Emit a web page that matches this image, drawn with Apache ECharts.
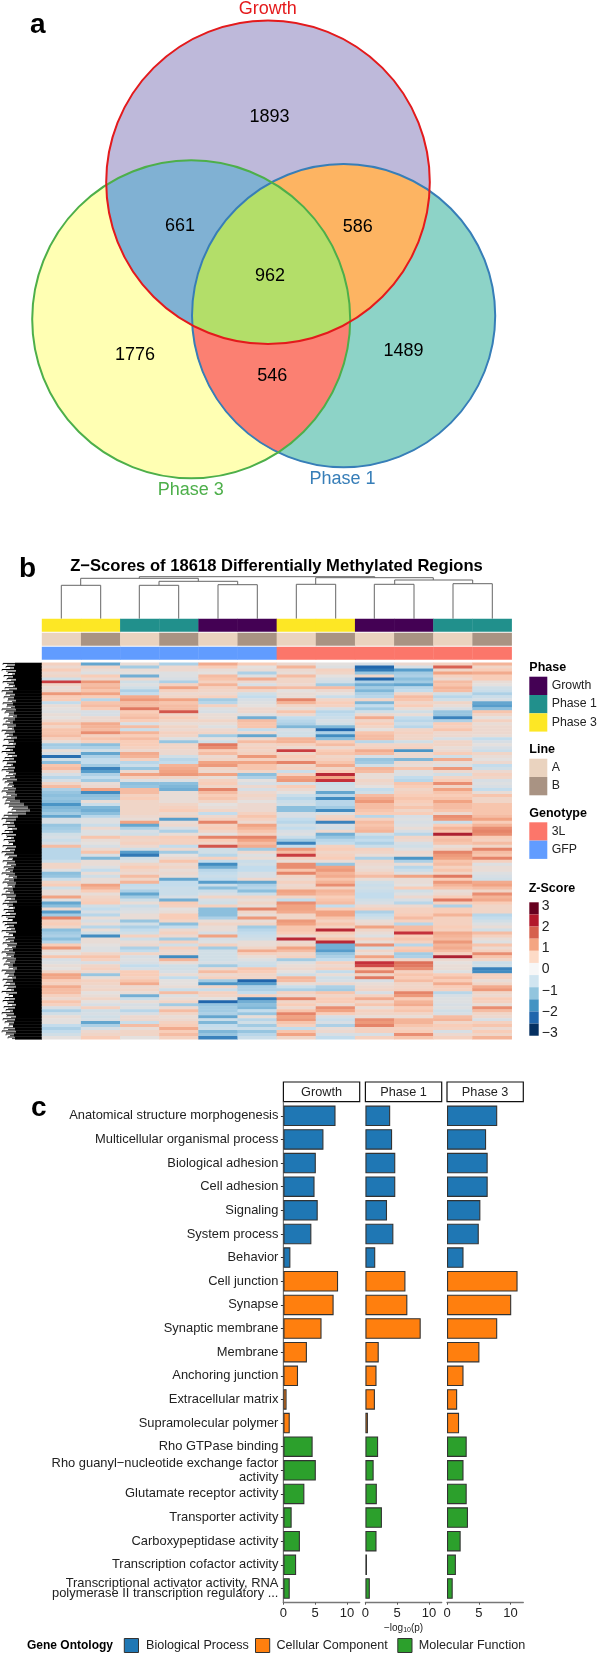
<!DOCTYPE html>
<html><head><meta charset="utf-8">
<style>html,body{margin:0;padding:0;background:#fff}#c{width:598px;height:1653px}</style>
<script src="https://cdn.jsdelivr.net/npm/echarts@6/dist/echarts.min.js"></script></head>
<body><div id="c"></div>
<script>
// ---------- panel a: Venn counts ----------
const vennSetNames = ['Growth', 'Phase 3', 'Phase 1'];
const vennCounts = [1893, 661, 586, 962, 1776, 546, 1489];

// ---------- panel b: heatmap ----------
const columnPhase = ['Phase 3','Phase 3','Phase 1','Phase 1','Growth','Growth','Phase 3','Phase 3','Growth','Growth','Phase 1','Phase 1'];
const columnLine = ['A','B','A','B','A','B','A','B','A','B','A','B'];
const columnGenotype = ['GFP','GFP','GFP','GFP','GFP','GFP','3L','3L','3L','3L','3L','3L'];
const zCol1 = [.4,.2,.5,.2,.3,-.3,1.9,.3,.1,.2,1.1,.5,.5,-.5,.1,0,-.1,.1,0,.2,.6,.3,.6,.6,.7,.4,.1,-.8,-.7,.1,-.2,-1.9,-.3,-1,.6,.7,.2,-.2,-.6,-.2,.3,.7,
 -.7,-.9,-1,-.9,-1,-1.5,-1.1,-1,-.8,-1.3,-.2,-.2,-.9,-.8,-.7,-.3,-.2,-.4,-.2,.7,-.6,-.6,-.6,-.6,-.4,.3,.3,-.1,-1,-.9,-.4,.3,.5,-.3,.1,.1,1,-.1,-1.3,-1,.2,-1.4,
 -.8,1.3,.4,.5,.3,-1,-.8,-.7,-1,-.6,.5,1.1,.1,0,.6,-.2,-.1,.1,0,.3,1,.9,.5,.4,.9,.7,.7,.4,.2,.6,.4,-.2,-.7,-.3,.1,0,0,-.5,-.7,-.5,-.3,0];
const zCol2 = [-1.3,.3,.1,-.1,.5,.2,1.1,.7,.8,.6,1,.5,-.6,.6,.7,.5,-.2,-.2,.2,.2,.9,.8,.7,1.2,.4,.6,.4,-1,-.7,-.3,-1.3,-.7,-.5,-.5,-.8,-1.7,-1.4,-.7,-.5,-.8,.1,.2,
 1,-1.6,-1,-.9,.1,-.4,-1.1,-1.2,-1,-.6,-.1,-.1,-.4,.2,-.1,-.1,.6,.1,0,-.2,.2,.6,-.2,-1.1,.1,.1,-.1,-.5,.1,-.3,.1,.1,1,.8,.5,.1,.3,.4,.5,-.3,-.5,-.2,
 -.6,.1,-.2,.1,-.6,.1,-.3,-1.6,.1,.1,0,-.1,-.1,.3,.6,.4,-.2,.3,.4,.2,-.9,.1,.4,.3,.2,.3,0,.1,.3,0,-.2,.4,-.3,-.2,-.3,-.2,-1.3,-.7,-.2,.2,.3,.5];
const zCol3 = [.1,-.8,.1,0,-1.2,.2,-.3,-.1,-.3,-.7,-.5,.9,1.1,.7,.7,1.4,.5,.6,.7,.5,-.2,.7,-.4,.8,.5,.7,.5,.5,.4,.2,.9,.8,.4,-.6,-.4,-.9,.2,1,.4,-.1,-1,-.9,
 .7,.7,.4,.5,.3,.3,.3,.3,.3,.2,.1,1,-1.3,-.7,-.2,-.3,.4,.3,.4,.2,-.3,-1.4,-1.8,-.3,-.1,.3,.5,.3,.2,.7,.3,.8,-.5,-.4,-.7,-1.3,-.8,-.3,.1,-.4,-.2,-.1,
 .1,.1,-.9,-.3,-.7,-.5,-.3,.4,-.3,.1,.2,-.7,-.5,.3,-.2,-.1,-.2,-.5,-.2,.5,.5,.4,.6,.9,.2,.3,.1,-1.2,-.4,.1,-.2,-.1,-.6,-.2,.2,.2,-.4,.7,.1,.3,.3,0];
const zCol4 = [-.7,.2,.2,-.1,-.1,-.2,-.7,.4,1,.4,.2,.3,1,.6,.7,.7,1.7,.3,.5,.3,.1,.3,.2,.4,.3,-.1,-.9,.3,.3,.2,.2,-.3,-.6,-.5,.8,.9,1,1.1,.3,-.1,-1,-1.1,
 -1.2,.1,.1,.1,.1,.3,.4,.5,.2,.3,-1.4,.1,.2,-.2,-.7,.1,.5,.4,.4,-.5,.2,-.8,0,.2,.6,.2,.3,.1,.2,.1,-1.3,-.5,-.5,-.4,-.4,-.4,-.2,-1.2,.5,.4,0,.1,
 .5,.5,.3,-1,-.5,.2,.4,.2,-.8,.4,-.3,.4,.2,.2,-1.6,.8,.1,-.3,-.3,-.2,.1,-.5,0,0,.1,-.4,.7,-.1,.1,.3,-.8,.2,.7,.3,.1,.2,.4,.5,.9,.5,.7,.4];
const zCol5 = [.9,.5,.1,0,.7,.6,.4,.8,.4,.3,.2,.4,-.8,-.6,.4,-.1,-.2,.1,.1,.3,.1,-.1,.2,.3,-.8,0,-.3,1.4,1.2,.5,.7,.2,.3,1,1.1,.3,.2,1,.1,.4,.5,.3,
 1.3,.7,.5,.6,.3,0,.1,.3,-.5,.2,.4,1.3,.4,.5,.3,0,1.3,.5,.3,1.7,-.3,-.3,-.6,.4,-.5,-1.6,-1.2,-.6,-.5,-.4,-.5,-1.4,-.4,-1,-.4,-.2,.3,-.2,-.3,.4,-1,-1,
 -1,-.7,.1,.3,.1,.1,-.2,1,-.2,-.1,.4,-.8,-.3,-.3,-.3,-.3,-.2,-.8,.2,.7,.2,.4,-.8,-1.5,.3,-.4,.4,.3,0,-2,-.9,-.8,-.8,-.7,-1.3,-.4,-1.1,-.5,-.4,-1.1,-.9,-1.7];
const zCol6 = [.5,0,.1,-.7,-.1,.9,.2,-.2,.8,.3,-.3,-.5,-.2,-.1,0,.2,.2,-.1,-1.2,.7,.6,.6,-.5,.2,-1.3,.2,.7,.3,.4,.3,.4,1.1,.4,1,.6,.6,.3,-1,-.7,0,-.2,.2,
 -.2,.2,.3,.2,0,.2,.2,.2,.4,.6,.4,.2,1,.8,.6,.4,1.3,1,.7,.9,-.8,.2,-.1,.1,-.4,-.3,-.5,-.5,-.2,-.2,.2,-1.3,-.7,-.6,-1,-.4,.3,.1,.3,.1,1.3,.3,
 .1,1.1,.1,.3,-.8,-.6,-.5,-.4,-.3,.1,.1,.3,.9,.4,.1,-.1,-.3,-.4,.6,.5,.3,.3,-2,-1.4,-.7,-.7,-.5,.4,-1.8,-1.2,-1,-1.1,-.5,-.9,.1,-.6,-.3,-.8,-.4,-.9,-.6,-.4];
const zCol7 = [.2,.8,.2,.1,.7,.3,.3,.2,.7,0,.1,.1,1.3,.8,.3,.1,.6,.2,-.5,-.6,-.7,-1.1,-.2,-.3,-.3,.8,.8,.4,.2,1.9,.3,.5,.4,1.3,.3,.4,-.4,.4,1,1.1,-.2,.5,
 .2,0,-.4,-.6,-.4,-.3,-1,-1,-.2,-.2,-.5,-.6,-.3,-.5,-.2,-.1,-.4,-.8,-1.7,-.5,1.1,.7,1.9,.4,.1,1.2,1.2,.6,1.3,.3,.2,.4,.2,.3,1,.9,.3,-.5,1.2,1,1,.9,
 .3,.3,1.1,1,.6,.6,.5,.2,2.1,.2,.3,1,.7,.3,.4,-.8,-.1,.1,.2,0,-.3,.8,.7,.1,-.4,-.7,.4,.2,1.3,.3,.5,.2,.6,1.3,1,1.1,.6,.4,-.5,.6,1,.3];
const zCol8 = [0,-.1,.4,.3,0,-.2,-.3,-.8,.7,.2,0,-.4,.3,.5,.4,-.2,-.6,-.5,-.4,-.2,-.3,-1.1,-2,-.7,-1.6,-1,.5,.7,.2,.5,.6,.3,.4,.6,.9,.3,.5,2.1,1,2,-.4,-.3,
 -.3,-1.3,-.6,-1.6,-.6,-.6,-.8,-1.6,-.1,.3,.4,-1.7,-.2,-.3,.2,-1.2,-.9,-.6,-.5,.4,.5,.3,.4,.5,.1,-.9,1,1.1,.8,.9,.6,.8,1.2,.4,.8,.7,.5,.6,.7,-.5,.5,1,
 1,.6,.4,.6,.4,2.1,.5,.3,.6,2.1,-1.2,-1.2,-1.4,-.9,-.7,-.5,.4,.2,.4,-.5,.1,-.3,-.2,.2,-.7,-.8,.6,.3,.5,.5,.2,1.2,1,.5,-.2,-.4,-.2,-.7,.1,.2,-.2,-.5];
const zCol9 = [-.2,-2,-1.8,-.9,.3,-2,-.7,-1.2,-.8,-1.1,-.7,-.6,.3,-1.1,-.5,-.8,-.3,.2,.9,.3,.5,.3,0,.6,.7,.7,-.6,.3,.4,.9,.7,-.2,-.9,-.8,-.3,.8,.7,.1,.1,.3,.2,0,
 -.5,-.3,.7,.9,1.1,.7,.7,.6,.5,-.6,.4,.7,.6,.7,.8,-.3,-.6,-.5,-.7,-.4,.4,.3,.1,-.7,.3,.2,.1,.2,.4,.7,.1,-.3,-.4,-.3,-.4,-.5,-.5,-.3,-.2,.2,.4,-.7,
 -.5,-.3,.1,.2,1,.3,.1,-.1,.4,.1,1.2,-.3,.3,.1,1,.3,2,1.8,.6,1.3,.3,1.4,-.2,.1,.2,.3,-.2,.4,.9,.3,.6,.1,.4,.3,.1,1.2,1.1,1.3,.4,.4,-.2,.4];
const zCol10 = [.2,-.2,-1.4,-.8,-.7,-1,-.8,-1.3,-.6,-.5,.3,.7,.6,.3,.5,.1,-.3,.1,-.5,-.6,-.4,-.6,.3,.4,.3,.3,-.3,.3,.4,-1.5,.2,.2,-1.1,.2,.1,.6,-.1,-.1,-.5,-.6,.6,.5,
 .3,.4,.5,.6,.5,.4,.6,.3,.5,-.2,-.1,-.2,-.1,.1,-.2,-.6,.3,.2,-.2,-.3,-.1,.2,.1,-1.5,-.7,.1,-.6,-.4,-.1,1,.1,.1,0,.5,-.3,-.1,.2,-.2,-.6,.2,.4,.4,
 .5,.7,.4,-.6,.7,.7,2,.5,.6,.4,-.6,.5,.6,-.8,-.7,.3,1.5,1.4,1.2,.4,.6,.5,.7,.3,.3,.4,1.3,1.1,.5,.8,.9,.5,.6,.3,.1,.8,.8,.6,.4,.5,1.2,.6];
const zCol11 = [.4,1.6,.3,1,.4,.2,.7,.6,.8,.7,-.3,-.6,-.3,.3,.1,-.2,-.9,-.9,-1.7,-.7,.5,.4,.6,.2,.2,-.2,.3,.3,.1,.2,.5,-.3,.9,.1,-.1,1.1,.2,-.3,.3,.5,1.2,.3,
 1,.6,.5,.6,1,.7,.7,.6,.2,1.2,1.1,-.4,.5,.8,.6,2.2,.6,.7,.6,.1,.3,1.3,1.1,1,.6,.7,.4,.6,.3,1.4,.5,1.1,.8,.6,.1,.2,.5,1.4,.4,-.7,.5,.5,
 .8,.4,.4,.4,.5,.4,.9,.8,.7,1.1,.8,.9,.7,.4,2.2,.2,0,.1,.1,-.1,.5,.7,.5,.9,.5,.4,-.6,-.2,-.1,-.1,-.2,-.1,-.3,-.2,.7,.8,.3,.5,.4,-.2,.2,.4];
const zCol12 = [.8,.3,.5,.9,.5,.5,.1,0,-.3,-.4,-.7,-.4,-.2,-1.3,-1.4,-1,.6,.3,0,.4,.1,.2,.2,.2,.1,-.5,-.2,0,-.2,-.4,.3,.1,0,.2,-.5,-.3,.2,.4,.3,-.2,-.1,-.2,
 -.5,.1,.6,.3,.3,.6,.6,.6,.6,.7,1,.5,.8,1.2,1.3,1.2,.5,.4,.7,.3,1.3,.7,.6,1.3,.4,-.1,.1,.1,-.1,-.2,-.3,.9,1,.7,.3,1.2,.8,.9,.5,.3,.3,.3,
 -.6,-.5,-.3,-.1,.1,-.3,.7,.4,.1,-.1,.6,.2,.4,1.2,.6,.3,-.4,-.3,-1.7,-1.6,.4,.4,.1,.3,.9,1.1,.3,.2,.5,.4,.1,1.2,.7,.3,.2,-.2,.4,.6,.2,.5,.3,.8];
const rowTreeEdge = [15,14,16,15,13,16,14,15,17,13,15,14,16,13,15,16,14,17,15,13,16,14,15,13,17,14,16,15,13,15,17,14,16,13,15,14,16,15,17,13,14,16,
 15,17,15,20,24,28,30,26,18,16,14,15,17,13,16,14,15,13,16,15,14,17,13,15,16,14,13,15,17,14,16,15,13,14,16,15,17,13,15,14,
 16,15,13,17,14,15,16,13,15,14,17,16,13,15,14,16,15,13,17,15,14,16,13,15,16,14,17,13,15,14,16,15,13,14,16,15,14,13,15,16,14,15];
const rowTreeTip = [3,6,2,8,4,7,3,9,5,2,6,4,8,3,7,2,5,9,4,6,3,8,2,5,7,4,9,3,6,2,8,5,3,7,4,2,9,6,3,5,8,4,
 2,7,3,6,5,9,12,8,4,2,6,3,8,5,2,7,4,9,3,6,2,5,8,3,7,4,6,2,9,5,3,8,4,6,2,7,5,3,9,4,
 6,2,8,3,5,7,2,9,4,6,3,8,5,2,7,3,6,4,9,2,5,8,3,6,4,7,2,9,5,3,8,4,6,2,7,3,5,9,4,2,6,8];
const zTickLabels = ['3','2','1','0','−1','−2','−3'];
const zLegendColors = ['#67001F','#B2182B','#D6604D','#F4A582','#FDDBC7','#F7F7F7','#D1E5F0','#92C5DE','#4393C3','#2166AC','#053061'];

// ---------- panel c: GO enrichment ----------
const goTerms = ['Anatomical structure morphogenesis','Multicellular organismal process','Biological adhesion','Cell adhesion','Signaling','System process','Behavior','Cell junction','Synapse','Synaptic membrane','Membrane','Anchoring junction','Extracellular matrix','Supramolecular polymer','Rho GTPase binding','Rho guanyl−nucleotide exchange factor\nactivity','Glutamate receptor activity','Transporter activity','Carboxypeptidase activity','Transcription cofactor activity','Transcriptional activator activity, RNA\npolymerase II transcription regulatory ...'];
const goClass = ['Biological Process','Biological Process','Biological Process','Biological Process','Biological Process','Biological Process','Biological Process','Cellular Component','Cellular Component','Cellular Component','Cellular Component','Cellular Component','Cellular Component','Cellular Component','Molecular Function','Molecular Function','Molecular Function','Molecular Function','Molecular Function','Molecular Function','Molecular Function'];
const goGrowth = [8.2,6.3,5.1,4.9,5.4,4.4,1.1,8.6,7.9,6.0,3.7,2.3,0.5,1.0,4.6,5.1,3.3,1.3,2.6,2.0,1.0];
const goPhase1 = [3.9,4.2,4.7,4.7,3.4,4.4,1.55,6.3,6.6,8.7,2.1,1.75,1.5,0.4,2.0,1.3,1.8,2.6,1.75,0.25,0.7];
const goPhase3 = [7.9,6.15,6.4,6.4,5.25,5.0,2.6,11.1,10.1,7.9,5.1,2.6,1.6,1.9,3.1,2.6,3.1,3.3,2.15,1.4,0.9];
const goPanels = ['Growth','Phase 1','Phase 3'];
const goTicks = [0,5,10];

// ---------- styling and layout (not data) ----------
const FONT = '"Liberation Sans", Arial, sans-serif';
const vennStyle = {
  sets: [{cx:268,cy:182.3,r:161.8,color:'#E41A1C',fill:'#BEB9DA',lx:267.7,ly:9,},{cx:191.2,cy:319.3,r:159,color:'#4DAF4A',fill:'#FFFFB3',lx:190.7,ly:490},{cx:343.6,cy:315.7,r:151.6,color:'#377EB8',fill:'#8DD3C7',lx:342.5,ly:479}],
  overlaps: [{of:[0,1],fill:'#80B1D3'},{of:[0,2],fill:'#FDB462'},{of:[1,2],fill:'#FB8072'},{of:[0,1,2],fill:'#B3DE69'}],
  countPos: [[269.6,116.7],[180,225.7],[357.7,226.7],[270,275.7],[135,355],[272.3,375.7],[403.5,350.7]]
};
const dendroBrackets = [[61.3,100.7,585.3,618.7,618.7],[139.3,178.7,585.3,618.7,618.7],[218,257.3,584.7,618.7,618.7],[296.3,335.7,584.3,618.7,618.7],[374.3,414,584.3,618.7,618.7],[453,492.3,583.7,618.7,618.7],[159,237.7,581.3,585.3,584.7],[80.7,198.3,578.3,585.3,581.3],[394.7,472.7,580,584.3,583.7],[315.7,433.3,577.7,584.3,580],[139.3,374.7,576.7,578.3,577.7]];
const phaseColors = {'Growth':'#440154','Phase 1':'#21908C','Phase 3':'#FDE725'};
const lineColors = {A:'#EAD3BF',B:'#A99383'};
const genoColors = {'3L':'#FC766A','GFP':'#619CFF'};
const goColors = {'Biological Process':'#1F77B4','Cellular Component':'#FF7F0E','Molecular Function':'#2CA02C'};
const HEAT = {left:42,top:662.7,width:469.7,height:376.6};
const columns = [zCol1,zCol2,zCol3,zCol4,zCol5,zCol6,zCol7,zCol8,zCol9,zCol10,zCol11,zCol12];
const rowNames = zCol1.map((_,i)=>'r'+i);
const heatData = [];
columns.forEach((col,c)=>col.forEach((v,r)=>heatData.push([c,r,v])));

// region outlines: a circle polygon cut by the half-planes of other circles' polygon edges
function circlePoly(s){const p=[];for(let i=0;i<240;i++){const a=i/240*2*Math.PI;p.push([s.cx+s.r*Math.cos(a),s.cy+s.r*Math.sin(a)]);}return p;}
function clipHalf(poly,a,b,c){
  const side=p=>(b[0]-a[0])*(p[1]-a[1])-(b[1]-a[1])*(p[0]-a[0]), ref=side(c), out=[];
  for(let i=0;i<poly.length;i++){
    const P=poly[i],Q=poly[(i+1)%poly.length],sp=side(P),sq=side(Q),ip=sp*ref>=0,iq=sq*ref>=0;
    if(ip) out.push(P);
    if(ip!==iq){const t=sp/(sp-sq);out.push([P[0]+t*(Q[0]-P[0]),P[1]+t*(Q[1]-P[1])]);}
  }
  return out;
}
function clipByCircle(poly,s){
  const e=circlePoly(s);let out=poly;
  for(let i=0;i<e.length&&out.length;i++) out=clipHalf(out,e[i],e[(i+1)%e.length],[s.cx,s.cy]);
  return out;
}

const pixelAxisX={gridIndex:0,type:'value',min:0,max:598,show:false};
const pixelAxisY={gridIndex:0,type:'value',min:0,max:1653,inverse:true,show:false};

function pts(api,list){return list.map(p=>api.coord(p));}

const series=[];
// Venn fills
const vennLayers=vennStyle.sets.map(s=>({poly:circlePoly(s),fill:s.fill})).concat(vennStyle.overlaps.map(o=>{
  let poly=circlePoly(vennStyle.sets[o.of[0]]);o.of.slice(1).forEach(i=>{poly=clipByCircle(poly,vennStyle.sets[i]);});return {poly,fill:o.fill};
}));
series.push({type:'custom',name:'vennFill',coordinateSystem:'cartesian2d',xAxisIndex:0,yAxisIndex:0,silent:true,clip:false,animation:false,
  data:vennLayers.map((_,i)=>[i]),
  renderItem(p,api){const l=vennLayers[p.dataIndex];return {type:'polygon',shape:{points:pts(api,l.poly)},style:{fill:l.fill,stroke:l.fill,lineWidth:0.5}};}
});
series.push({type:'custom',name:'vennOutline',coordinateSystem:'cartesian2d',xAxisIndex:0,yAxisIndex:0,silent:true,clip:false,animation:false,z:3,
  data:[2,1,0],
  renderItem(p,api){const s=vennStyle.sets[api.value(0)];const c=api.coord([s.cx,s.cy]);
    return {type:'circle',shape:{cx:c[0],cy:c[1],r:s.r},style:{fill:'none',stroke:s.color,lineWidth:2}};}
});
series.push({type:'custom',name:'vennCounts',coordinateSystem:'cartesian2d',xAxisIndex:0,yAxisIndex:0,silent:true,clip:false,animation:false,z:4,
  data:vennCounts.map((v,i)=>[vennStyle.countPos[i][0],vennStyle.countPos[i][1],v]),
  renderItem(p,api){const c=api.coord([api.value(0),api.value(1)]);
    return {type:'text',x:c[0],y:c[1],style:{text:String(api.value(2)),fontFamily:FONT,fontSize:18,fill:'#000',textAlign:'center',textVerticalAlign:'middle'}};}
});
// column dendrogram
series.push({type:'custom',name:'columnTree',coordinateSystem:'cartesian2d',xAxisIndex:0,yAxisIndex:0,silent:true,clip:false,animation:false,
  data:dendroBrackets,
  renderItem(p,api){const v=[0,1,2,3,4].map(i=>api.value(i));
    return {type:'polyline',shape:{points:pts(api,[[v[0],v[3]],[v[0],v[2]],[v[1],v[2]],[v[1],v[4]]])},style:{fill:'none',stroke:'#666',lineWidth:1}};}
});
// row dendrogram
const rowH=HEAT.height/rowTreeEdge.length;
series.push({type:'custom',name:'rowTree',coordinateSystem:'cartesian2d',xAxisIndex:0,yAxisIndex:0,silent:true,clip:false,animation:false,
  data:rowTreeEdge.map((e,i)=>[i,e,rowTreeTip[i]]),
  renderItem(p,api){const i=api.value(0),e=api.value(1),t=api.value(2),y=HEAT.top+i*rowH;
    const a=api.coord([e,y]),b=api.coord([HEAT.left,y+rowH]);
    const mid=y+rowH/2, kids=[
      {type:'rect',shape:{x:a[0],y:a[1],width:b[0]-a[0],height:b[1]-a[1]+.3},style:{fill:'#000'}},
      {type:'polyline',shape:{points:pts(api,[[t,mid-.8],[e,mid-.8]])},style:{fill:'none',stroke:'#000',lineWidth:1}},
      {type:'polyline',shape:{points:pts(api,[[t+4,mid+.8],[e,mid+.8]])},style:{fill:'none',stroke:'#111',lineWidth:.8}},
      {type:'polyline',shape:{points:pts(api,[[t,mid-.8],[t,mid+.8]])},style:{fill:'none',stroke:'#333',lineWidth:.7}}
    ];
    return {type:'group',children:kids};}
});
// annotation tracks
const trackData=[];
[[columnPhase,phaseColors],[columnLine,lineColors],[columnGenotype,genoColors]].forEach((t,k)=>t[0].forEach((v,c)=>trackData.push({value:[c,k],color:t[1][v]})));
series.push({type:'custom',name:'tracks',coordinateSystem:'cartesian2d',xAxisIndex:2,yAxisIndex:2,silent:true,animation:false,
  data:trackData.map(d=>d.value),
  renderItem(p,api){const c=api.value(0),k=api.value(1),w=api.size([1,0])[0];
    const a=api.coord([c,k]),b=api.coord([c,k+0.93]);
    return {type:'rect',shape:{x:a[0]-w/2-.2,y:a[1],width:w+.4,height:b[1]-a[1]},style:{fill:trackData[p.dataIndex].color}};}
});
// heatmap
series.push({type:'heatmap',name:'z',xAxisIndex:1,yAxisIndex:1,data:heatData,silent:true,animation:false,progressive:0,itemStyle:{borderWidth:0}});
// bars
[goGrowth,goPhase1,goPhase3].forEach((vals,i)=>{
  series.push({type:'bar',name:goPanels[i],xAxisIndex:3+i,yAxisIndex:3+i,silent:true,animation:false,barWidth:20.5,
    data:vals.map((v,j)=>({value:v,itemStyle:{color:goColors[goClass[j]],borderColor:'#333',borderWidth:1.1}}))});
});

// axes
const GO_GRID={top:1104,height:496.3};
const grids=[
  {left:0,top:0,width:598,height:1653},
  {left:HEAT.left,top:HEAT.top,width:HEAT.width,height:HEAT.height},
  {left:HEAT.left,top:618.7,width:HEAT.width,height:42},
  {left:283.4,width:76.3,...GO_GRID},
  {left:365.4,width:76.3,...GO_GRID},
  {left:447,width:76.3,...GO_GRID}
];
const xAxes=[pixelAxisX,
  {gridIndex:1,type:'category',data:columnPhase.map((_,i)=>i),show:false},
  {gridIndex:2,type:'category',data:columnPhase.map((_,i)=>i),show:false}];
const yAxes=[pixelAxisY,
  {gridIndex:1,type:'category',data:rowNames,inverse:true,show:false},
  {gridIndex:2,type:'value',min:0,max:3,inverse:true,show:false}];
goPanels.forEach((n,i)=>{
  xAxes.push({gridIndex:3+i,type:'value',min:0,max:12,interval:5,offset:2.4,splitLine:{show:false},
    axisLine:{show:true,onZero:false,lineStyle:{color:'#777',width:1.3}},
    axisTick:{show:true,length:2,customValues:goTicks,lineStyle:{color:'#555'}},
    axisLabel:{customValues:goTicks,color:'#222',fontFamily:FONT,fontSize:13,margin:4,hideOverlap:false,showMinLabel:true,showMaxLabel:true},
    ...(i===1?{name:'{a|−log}{b|10}{a|(p)}',nameLocation:'middle',nameGap:21,nameTextStyle:{rich:{a:{fontFamily:FONT,fontSize:10,color:'#222'},b:{fontFamily:FONT,fontSize:7,color:'#222',verticalAlign:'bottom',padding:[3,0,0,0]}}}}:{})});
  yAxes.push({gridIndex:3+i,type:'category',data:goTerms,inverse:true,show:i===0,
    axisLine:{show:false},axisTick:{show:i===0,length:2.5,alignWithLabel:true,lineStyle:{color:'#333'}},
    axisLabel:{show:i===0,interval:0,margin:5,align:'right',color:'#222',fontFamily:FONT,fontSize:12.9,lineHeight:14,
      formatter:t=>t.indexOf('Transcriptional')===0?t.split('\n').map(s=>'{t|'+s+'}').join('\n'):t,
      rich:{t:{fontFamily:FONT,fontSize:12.9,color:'#222',lineHeight:10.7}}}});
});

// graphic: titles, letters, legends
const G=[];
function txt(x,y,text,o){G.push({type:'text',x,y,silent:true,style:Object.assign({text,fontFamily:FONT,fontSize:12,fill:'#222',textAlign:'left',textVerticalAlign:'middle'},o||{})});}
function box(x,y,w,h,fill,stroke,lw){G.push({type:'rect',silent:true,shape:{x,y,width:w,height:h},style:{fill,stroke:stroke||null,lineWidth:lw||0}});}
txt(30,25,'a',{fontSize:28,fontWeight:'bold',fill:'#000'});
txt(19,569,'b',{fontSize:28,fontWeight:'bold',fill:'#000'});
txt(31,1108,'c',{fontSize:28,fontWeight:'bold',fill:'#000'});
vennSetNames.forEach((n,i)=>{const s=vennStyle.sets[i];txt(s.lx,s.ly,n,{fontSize:18,fill:s.color,textAlign:'center'});});
txt(276.5,566,'Z−Scores of 18618 Differentially Methylated Regions',{fontSize:16.6,fontWeight:'bold',fill:'#000',textAlign:'center'});
function legendBlock(title,ty,names,colors,y0){
  txt(529.3,ty,title,{fontSize:12.5,fontWeight:'bold',fill:'#000'});
  names.forEach((n,i)=>{box(529.3,y0+i*18.3,18,18.3,colors[n]);txt(551.7,y0+i*18.3+9,n,{fontSize:12.3,fill:'#222'});});
}
legendBlock('Phase',667.7,Object.keys(phaseColors),phaseColors,676.7);
legendBlock('Line',749.7,Object.keys(lineColors),lineColors,758.7);
legendBlock('Genotype',813.7,Object.keys(genoColors),genoColors,822.3);
txt(528.7,888.3,'Z-Score',{fontSize:12.5,fontWeight:'bold',fill:'#000'});
zLegendColors.forEach((c,i)=>box(529.3,902.3+i*12.13,9.4,12.13,c));
zTickLabels.forEach((t,i)=>txt(541.7,905.9+i*21.2,t,{fontSize:14,fill:'#222'}));
goPanels.forEach((n,i)=>{const x=grids[3+i].left;
  box(x,1082,76.3,19.7,'#fff','#111',1.2);
  txt(x+38.15,1092,n,{fontSize:12.7,fill:'#222',textAlign:'center'});
});
G.push({type:'line',silent:true,shape:{x1:283.4,y1:1101.7,x2:283.4,y2:1603},style:{stroke:'#777',lineWidth:1.2}});
txt(27,1646,'Gene Ontology',{fontSize:12,fontWeight:'bold',fill:'#000'});
Object.keys(goColors).forEach((n,i)=>{const sx=[124.3,255.5,397.8][i],tx=[146,276.5,418.8][i];
  box(sx,1638.5,14.2,14,goColors[n],'#333',1);txt(tx,1645.5,n,{fontSize:12.6,fill:'#222'});});

const chart=echarts.init(document.getElementById('c'),null,{width:598,height:1653});
chart.setOption({
  animation:false,backgroundColor:'#fff',
  grid:grids,xAxis:xAxes,yAxis:yAxes,series,graphic:G,
  visualMap:{show:false,seriesIndex:series.findIndex(s=>s.type==='heatmap'),dimension:2,min:-2.5,max:2.5,
    inRange:{color:['#053061','#2166AC','#4A95C6','#8CBFDD','#C3DCEC','#E4E0DE','#F8CDB8','#F1A383','#DD6F58','#C5303A','#8A0A25']}}
});
</script></body></html>
